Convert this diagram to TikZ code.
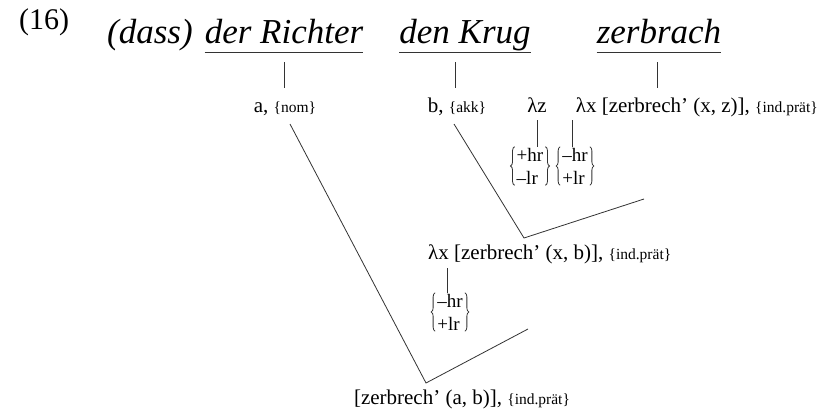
\documentclass[tikz,border=0pt]{standalone}
\usepackage{fontspec}
\usetikzlibrary{decorations.pathreplacing}
\setmainfont{Liberation Serif}
\newcommand\hdfont{\fontsize{35}{40}\selectfont\itshape}
\newcommand\numfont{\fontsize{30}{36}\selectfont}
\newcommand\labfont{\fontsize{21}{24}\selectfont}
\newcommand\smf[1]{{\fontsize{15.5}{18}\selectfont #1}}
\newcommand\featfont{\fontsize{19}{23}\selectfont}
\tikzset{
  hd/.style={inner sep=0pt, font=\hdfont},
  lab/.style={inner sep=0pt, font=\labfont},
  fm/.style={inner xsep=2pt, inner ysep=1pt, font=\featfont, align=left},
  ln/.style={line width=0.8pt, draw=black!80},
  br/.style={line width=0.8pt, draw=black!80, decorate, decoration={brace, amplitude=4pt}},
}
\newcommand\braces[1]{%
  \draw[br] (#1.south west) -- (#1.north west);
  \draw[br] (#1.north east) -- (#1.south east);}
\begin{document}
\begin{tikzpicture}[x=1pt,y=-1pt]
\useasboundingbox (0,0) rectangle (821,412);
% header
\node[inner sep=0pt, font=\numfont, anchor=base west] (num) at (19,30) {(16)};
\node[hd, anchor=base west] (dass) at (107,44) {(dass)};
\node[hd, anchor=base] (richter) at (284,44) {der Richter};
\node[hd, anchor=base] (krug) at (465,44) {den Krug};
\node[hd, anchor=base] (zerbrach) at (659,44) {zerbrach};
\foreach \w in {richter,krug,zerbrach}
  \draw[ln] ([yshift=-8pt]\w.base west) -- ([yshift=-8pt]\w.base east);
% label row
\node[lab, anchor=base] (a) at (285,112) {a, \smf{\{nom\}}};
\node[lab, anchor=base] (b) at (457,112) {b, \smf{\{akk\}}};
\node[lab, anchor=base] (lz) at (537,112) {λz};
\node[lab, anchor=base east] (lx) at (818,112) {λx [zerbrech’ (x, z)], \smf{\{ind.prät\}}};
% vertical connectors from words
\coordinate (r1) at (284,62); \coordinate (r2) at (284,88);
\coordinate (k1) at (455,62); \coordinate (k2) at (455,88);
\coordinate (z1) at (657,62); \coordinate (z2) at (657,88);
\draw[ln] (r1) -- (r2);
\draw[ln] (k1) -- (k2);
\draw[ln] (z1) -- (z2);
% feature braces top
\node[fm] (f1) at (530,166) {+hr\\–lr};
\node[fm] (f2) at (575,166) {–hr\\+lr};
\braces{f1}
\braces{f2}
\draw[ln] (537,120) -- (f1.north -| 537,0);
\draw[ln] (572,120) -- (f2.north -| 572,0);
% middle
\node[lab, anchor=base west] (mid) at (428,259) {λx [zerbrech’ (x, b)], \smf{\{ind.prät\}}};
\node[fm] (f3) at (450,312) {–hr\\+lr};
\braces{f3}
\draw[ln] (447,268) -- (f3.north -| 447,0);
% bottom
\node[lab, anchor=base] (bot) at (462,404) {[zerbrech’ (a, b)], \smf{\{ind.prät\}}};
% V connectors
\coordinate (sA) at (290,124);
\coordinate (vA) at (426,383);
\coordinate (eA) at (528,329);
\draw[ln] (sA) -- (vA) -- (eA);
\coordinate (sB) at (454,124);
\coordinate (vB) at (524,238);
\coordinate (eB) at (644,199);
\draw[ln] (sB) -- (vB) -- (eB);
\end{tikzpicture}
\end{document}
